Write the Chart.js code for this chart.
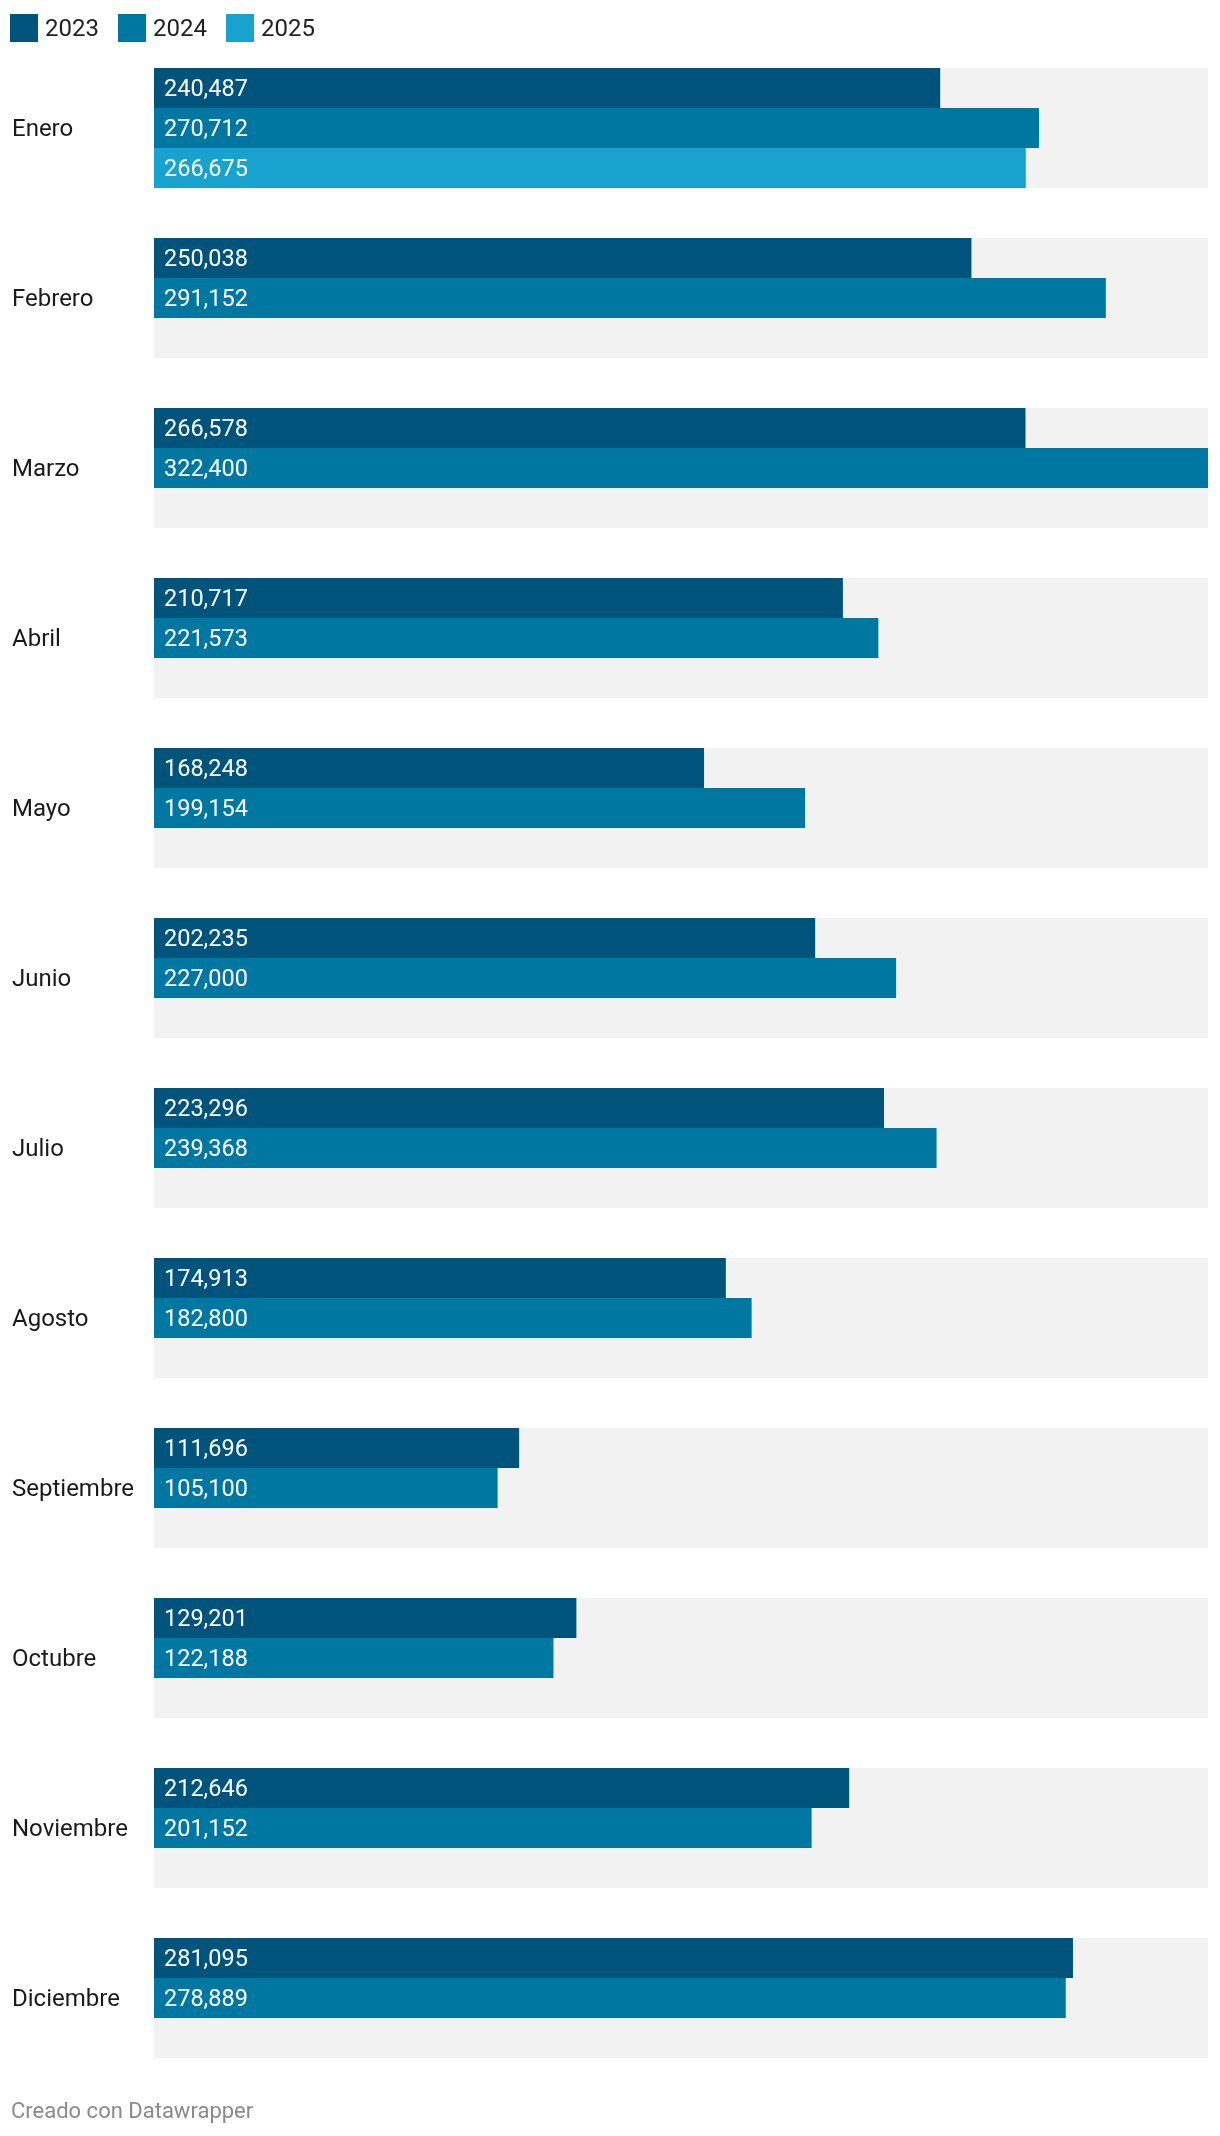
<!DOCTYPE html>
<html>
<head>
<meta charset="utf-8">
<script src="https://cdn.jsdelivr.net/npm/chart.js@4"></script>
<style>
  body { margin: 0; background: #fff; font-family: Roboto, sans-serif; }
  #wrap { position: relative; width: 1220px; height: 2136px; }
  canvas { position: absolute; left: 0; top: 0; }
  .legend { position: absolute; left: 10px; top: 14px; display: flex; font-size: 24px; color: #222; }
  .legend .item { width: 108px; display: flex; align-items: center; }
  .legend .box { width: 28px; height: 28px; display: inline-block; margin-right: 7px; }
  .legend .txt { line-height: 28px; }
  .footer { position: absolute; left: 11px; top: 2098px; font-size: 22px; color: #8a8a8a; }
</style>
</head>
<body>
<div id="wrap">
  <canvas id="chart" width="1220" height="2136"></canvas>
  <div class="legend" id="legend"></div>
  <div class="footer">Creado con Datawrapper</div>
</div>
<script>
const months = ["Enero", "Febrero", "Marzo", "Abril", "Mayo", "Junio", "Julio", "Agosto", "Septiembre", "Octubre", "Noviembre", "Diciembre"];
const years = ["2023", "2024", "2025"];
const v2023 = [240487, 250038, 266578, 210717, 168248, 202235, 223296, 174913, 111696, 129201, 212646, 281095];
const v2024 = [270712, 291152, 322400, 221573, 199154, 227000, 239368, 182800, 105100, 122188, 201152, 278889];
const v2025 = [266675, null, null, null, null, null, null, null, null, null, null, null];
const colors = ["#00537a", "#0077a1", "#18a2ce"];
const catPct = 120 / 170;

// legend
const legend = document.getElementById("legend");
years.forEach((y, i) => {
  legend.innerHTML += `<div class="item"><span class="box" style="background:${colors[i]}"></span><span class="txt">${y}</span></div>`;
});

// gray row backgrounds + month names
const rowBg = {
  id: "rowBg",
  beforeDatasetsDraw(chart) {
    const { ctx, chartArea, scales } = chart;
    const pitch = (chartArea.bottom - chartArea.top) / months.length;
    const h = pitch * catPct;
    ctx.save();
    months.forEach((m, i) => {
      const yc = scales.y.getPixelForValue(i);
      ctx.fillStyle = "#f2f2f2";
      ctx.fillRect(chartArea.left, yc - h / 2, chartArea.right - chartArea.left, h);
      ctx.fillStyle = "#1a1a1a";
      ctx.font = "24px Roboto";
      ctx.textBaseline = "middle";
      ctx.textAlign = "left";
      ctx.fillText(m, 12, yc + 2);
    });
    ctx.restore();
  }
};

const valueLabels = {
  id: "valueLabels",
  afterDatasetsDraw(chart) {
    const { ctx } = chart;
    ctx.save();
    ctx.font = "23.5px Roboto";
    ctx.fillStyle = "#fff";
    ctx.textBaseline = "middle";
    ctx.textAlign = "left";
    chart.data.datasets.forEach((ds, di) => {
      chart.getDatasetMeta(di).data.forEach((bar, i) => {
        const v = ds.data[i];
        if (v == null) return;
        ctx.fillText(v.toLocaleString("en-US"), bar.base + 10, bar.y + 2);
      });
    });
    ctx.restore();
  }
};

new Chart(document.getElementById("chart"), {
  type: "bar",
  data: {
    labels: months,
    datasets: [
      { label: years[0], data: v2023, backgroundColor: colors[0] },
      { label: years[1], data: v2024, backgroundColor: colors[1] },
      { label: years[2], data: v2025, backgroundColor: colors[2] }
    ]
  },
  options: {
    indexAxis: "y",
    responsive: false,
    animation: false,
    devicePixelRatio: 1,
    layout: { padding: { left: 12, right: 12, top: 43, bottom: 53 } },
    datasets: { bar: { categoryPercentage: catPct, barPercentage: 1 } },
    scales: {
      x: { display: false, min: 0, max: 322400 },
      y: {
        grid: { display: false },
        border: { display: false },
        afterFit(scale) { scale.width = 142; },
        ticks: { display: false }
      }
    },
    plugins: {
      legend: { display: false },
      tooltip: { enabled: false }
    }
  },
  plugins: [rowBg, valueLabels]
});
</script>
</body>
</html>
